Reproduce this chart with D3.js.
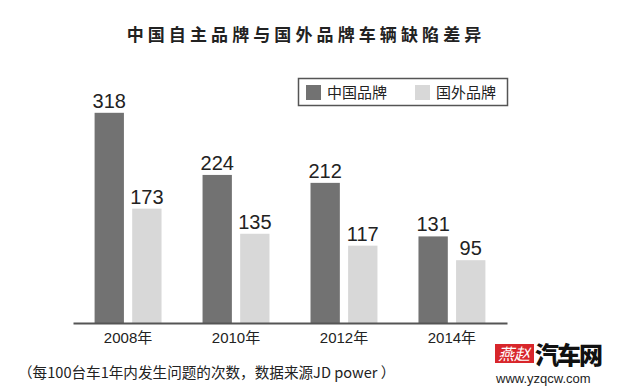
<!DOCTYPE html>
<html>
<head>
<meta charset="utf-8">
<script src="https://cdn.jsdelivr.net/npm/d3@7"></script>
<style>
  body { margin: 0; background: #fff; }
  svg { display: block; font-family: "Noto Sans CJK SC", "Liberation Sans", sans-serif; }
  .eixo text { font-family: "Liberation Sans", "Noto Sans CJK SC", sans-serif; }
</style>
</head>
<body>
<script>
// 数据
var anos = ['2008年', '2010年', '2012年', '2014年']
const series = ['中国品牌', '国外品牌']
const chinaBrand = [318, 224, 212, 131]
const foreignBrand = [173, 135, 117, 95]

const cores = ['#727272', '#d8d8d8']

var dados = anos.map(function (a, i) {
  return {ano: a, valores: [chinaBrand[i], foreignBrand[i]]}
})

const largura = 620
const altura = 388
const base = 323

var svg = d3.select('body').append('svg')
  .attr('width', largura)
  .attr('height', altura)

// título
svg.append('text')
  .attr('x', 306)
  .attr('y', 41)
  .attr('text-anchor', 'middle')
  .attr('font-size', 17)
  .attr('font-weight', 600)
  .attr('letter-spacing', 4.1)
  .attr('fill', '#222')
  .text('中国自主品牌与国外品牌车辆缺陷差异')

// escalas
var x = d3.scaleBand()
  .domain(anos)
  .range([73, 507])
  .paddingInner(0.38)
  .paddingOuter(0.2)

var xSub = d3.scaleBand()
  .domain(series)
  .range([0, x.bandwidth()])
  .paddingInner(0.22)

var y = d3.scaleLinear()
  .domain([0, 350])
  .range([base, base - 350 * 0.661])

// barras
var grupos = svg.selectAll('g.grupo')
  .data(dados)
  .enter().append('g')
    .attr('class', 'grupo')
    .attr('transform', function (d) { return 'translate(' + x(d.ano) + ',0)' })

grupos.selectAll('rect')
  .data(function (d) { return d.valores.map(function (v, j) { return {s: series[j], v: v, j: j} }) })
  .enter().append('rect')
    .attr('x', function (d) { return xSub(d.s) })
    .attr('y', function (d) { return y(d.v) })
    .attr('width', xSub.bandwidth())
    .attr('height', function (d) { return base - y(d.v) })
    .attr('fill', function (d) { return cores[d.j] })

grupos.selectAll('text.valor')
  .data(function (d) { return d.valores.map(function (v, j) { return {s: series[j], v: v} }) })
  .enter().append('text')
    .attr('class', 'valor')
    .attr('x', function (d) { return xSub(d.s) + xSub.bandwidth() / 2 })
    .attr('y', function (d) { return y(d.v) - 5 })
    .attr('text-anchor', 'middle')
    .attr('font-family', 'Liberation Sans, Arial, sans-serif')
    .attr('font-size', 20)
    .attr('fill', '#222')
    .text(function (d) { return d.v })

// eixo x
var eixoX = d3.axisBottom(x).tickSize(0).tickPadding(9)
var gEixo = svg.append('g')
  .attr('class', 'eixo')
  .attr('transform', 'translate(0,' + base + ')')
  .call(eixoX)
gEixo.select('.domain').attr('stroke', '#555').attr('stroke-width', 2)
gEixo.selectAll('text')
  .attr('font-size', 15)
  .attr('fill', '#222')

// legenda
var leg = svg.append('g')
svg.append('rect')
  .attr('x', 298.5).attr('y', 78.5)
  .attr('width', 209).attr('height', 27)
  .attr('fill', 'none')
  .attr('stroke', '#555')
  .attr('stroke-width', 1.5)

const legX = [306, 415]
series.forEach(function (s, i) {
  leg.append('rect')
    .attr('x', legX[i]).attr('y', 85)
    .attr('width', 15).attr('height', 15)
    .attr('fill', cores[i])
  leg.append('text')
    .attr('x', legX[i] + 21).attr('y', 98)
    .attr('font-size', 15)
    .attr('fill', '#222')
    .text(s)
})

// nota
svg.append('text')
  .attr('x', 18).attr('y', 378)
  .attr('font-size', 14.6)
  .attr('fill', '#222')
  .text('（每100台车1年内发生问题的次数，数据来源JD power ）')

// logotipo
svg.append('rect')
  .attr('x', 495).attr('y', 344)
  .attr('width', 39).attr('height', 19)
  .attr('fill', '#d8262b')
svg.append('text')
  .attr('x', 514).attr('y', 360)
  .attr('text-anchor', 'middle')
  .attr('font-size', 16)
  .attr('font-style', 'italic')
  .attr('fill', '#fff')
  .text('燕赵')
svg.append('text')
  .attr('x', 535).attr('y', 364)
  .attr('font-size', 24)
  .attr('font-weight', 900)
  .attr('letter-spacing', -2)
  .attr('fill', '#111')
  .text('汽车网')
svg.append('text')
  .attr('x', 496).attr('y', 383)
  .attr('font-family', 'Liberation Sans, Arial, sans-serif')
  .attr('font-size', 13)
  .attr('fill', '#222')
  .text('www.yzqcw.com')
</script>
</body>
</html>
